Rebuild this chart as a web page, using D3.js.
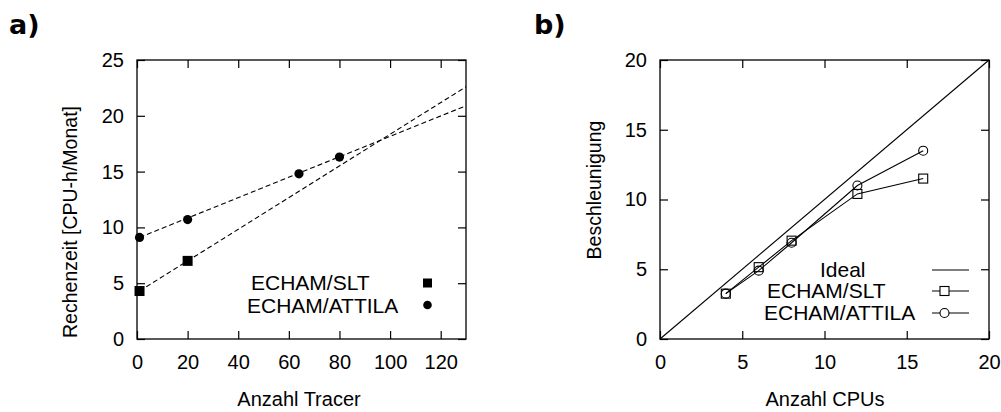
<!DOCTYPE html>
<html>
<head>
<meta charset="utf-8">
<script src="https://cdn.jsdelivr.net/npm/d3@7"></script>
<style>
  body { margin: 0; background: #fff; }
  svg text { font-family: "Liberation Sans", Arial, Helvetica, sans-serif; fill: #000; }
  .axis path { display: none; }
  .axis line { stroke: #000; stroke-width: 1.2; }
  .axis text { font-size: 20px; }
</style>
</head>
<body>
<div id="graph"></div>
<script>
// panel a) data: run time vs number of tracers
const tracerSLT = [1, 20];
const timeSLT = [4.3, 7.0];
const tracerATTILA = [1, 20, 64, 80];
const timeATTILA = [9.1, 10.7, 14.8, 16.3];
const fitTracer = [1, 130];
const fitSLT = [4.3, 22.6];
const fitATTILA = [9.1, 20.9];
const tracerTicks = [0, 20, 40, 60, 80, 100, 120];
const timeTicks = [0, 5, 10, 15, 20, 25];

// panel b) data: speedup vs number of CPUs
const cpus = [4, 6, 8, 12, 16];
const speedupSLT = [3.25, 5.15, 7.05, 10.4, 11.5];
const speedupATTILA = [3.25, 4.9, 6.9, 11.0, 13.5];
const idealCPUs = [0, 20];
const idealSpeedup = [0, 20];
const cpuTicks = [0, 5, 10, 15, 20];
const speedupTicks = [0, 5, 10, 15, 20];

const seriesNames = ["ECHAM/SLT", "ECHAM/ATTILA"];

(function() {
    const width = 1001, height = 412,
        top = 60, bottom = 339,
        tick = 8;

    const svg = d3.select("#graph")
        .append("svg")
        .attr("width", width)
        .attr("height", height);

    // scales
    const xA = d3.scaleLinear().domain([0, 130]).range([137, 466]);
    const yA = d3.scaleLinear().domain([0, 25]).range([bottom, top]);
    const xB = d3.scaleLinear().domain([0, 20]).range([660, 989]);
    const yB = d3.scaleLinear().domain([0, 20]).range([bottom, top]);

    // draws a framed box with inward ticks on all four sides
    function frame(x, y, xTicks, yTicks) {
        svg.append("g")
            .attr("class", "axis")
            .attr("transform", "translate(0," + bottom + ")")
            .call(d3.axisBottom(x).tickValues(xTicks).tickSizeInner(-tick).tickSizeOuter(0).tickPadding(16));
        svg.append("g")
            .attr("class", "axis")
            .attr("transform", "translate(0," + top + ")")
            .call(d3.axisTop(x).tickValues(xTicks).tickSizeInner(-tick).tickSizeOuter(0).tickFormat(""));
        svg.append("g")
            .attr("class", "axis")
            .attr("transform", "translate(" + x.range()[0] + ",0)")
            .call(d3.axisLeft(y).tickValues(yTicks).tickSizeInner(-tick).tickSizeOuter(0).tickPadding(13));
        svg.append("g")
            .attr("class", "axis")
            .attr("transform", "translate(" + x.range()[1] + ",0)")
            .call(d3.axisRight(y).tickValues(yTicks).tickSizeInner(-tick).tickSizeOuter(0).tickFormat(""));
        svg.append("rect")
            .attr("x", x.range()[0])
            .attr("y", top)
            .attr("width", x.range()[1] - x.range()[0])
            .attr("height", bottom - top)
            .attr("fill", "none")
            .attr("stroke", "#000")
            .attr("stroke-width", 1.3);
    }

    frame(xA, yA, tracerTicks, timeTicks);
    frame(xB, yB, cpuTicks, speedupTicks);

    // ---- panel a ----
    const lineA = d3.line().x(d => xA(d[0])).y(d => yA(d[1]));
    [fitSLT, fitATTILA].forEach(function(fit) {
        svg.append("path")
            .datum(d3.zip(fitTracer, fit))
            .attr("d", lineA)
            .attr("fill", "none")
            .attr("stroke", "#000")
            .attr("stroke-width", 1.1)
            .attr("stroke-dasharray", "5,3");
    });

    svg.selectAll(".sqA")
        .data(d3.zip(tracerSLT, timeSLT))
        .enter()
        .append("rect")
        .attr("class", "sqA")
        .attr("x", d => xA(d[0]) - 5)
        .attr("y", d => yA(d[1]) - 5)
        .attr("width", 10)
        .attr("height", 10)
        .attr("fill", "#000");

    svg.selectAll(".ciA")
        .data(d3.zip(tracerATTILA, timeATTILA))
        .enter()
        .append("circle")
        .attr("class", "ciA")
        .attr("cx", d => xA(d[0]))
        .attr("cy", d => yA(d[1]))
        .attr("r", 4.6)
        .attr("fill", "#000");

    // legend a
    svg.append("text").attr("x", 251).attr("y", 290).style("font-size", "21px").text(seriesNames[0]);
    svg.append("text").attr("x", 247).attr("y", 313).style("font-size", "21px").text(seriesNames[1]);
    svg.append("rect").attr("x", 423).attr("y", 278.5).attr("width", 9).attr("height", 9).attr("fill", "#000");
    svg.append("circle").attr("cx", 427.5).attr("cy", 305).attr("r", 4.3).attr("fill", "#000");

    // ---- panel b ----
    const lineB = d3.line().x(d => xB(d[0])).y(d => yB(d[1]));
    svg.append("path")
        .datum(d3.zip(idealCPUs, idealSpeedup))
        .attr("d", lineB)
        .attr("fill", "none")
        .attr("stroke", "#000")
        .attr("stroke-width", 1.1);

    [speedupSLT, speedupATTILA].forEach(function(s) {
        svg.append("path")
            .datum(d3.zip(cpus, s))
            .attr("d", lineB)
            .attr("fill", "none")
            .attr("stroke", "#000")
            .attr("stroke-width", 1.1);
    });

    svg.selectAll(".sqB")
        .data(d3.zip(cpus, speedupSLT))
        .enter()
        .append("rect")
        .attr("class", "sqB")
        .attr("x", d => xB(d[0]) - 4.5)
        .attr("y", d => yB(d[1]) - 4.5)
        .attr("width", 9)
        .attr("height", 9)
        .attr("fill", "none")
        .attr("stroke", "#000")
        .attr("stroke-width", 1.1);

    svg.selectAll(".ciB")
        .data(d3.zip(cpus, speedupATTILA))
        .enter()
        .append("circle")
        .attr("class", "ciB")
        .attr("cx", d => xB(d[0]))
        .attr("cy", d => yB(d[1]))
        .attr("r", 4.5)
        .attr("fill", "none")
        .attr("stroke", "#000")
        .attr("stroke-width", 1.1);

    // legend b
    const legB = [["Ideal", 820, 277, 270], [seriesNames[0], 767, 298, 291], [seriesNames[1], 764, 320, 313]];
    legB.forEach(function(l, i) {
        svg.append("text").attr("x", l[1]).attr("y", l[2]).style("font-size", "21px").text(l[0]);
        svg.append("line")
            .attr("x1", 932).attr("x2", 969).attr("y1", l[3]).attr("y2", l[3])
            .attr("stroke", "#000").attr("stroke-width", 1.1);
    });
    svg.append("rect").attr("x", 940).attr("y", 286.5).attr("width", 9).attr("height", 9)
        .attr("fill", "#fff").attr("stroke", "#000").attr("stroke-width", 1.1);
    svg.append("circle").attr("cx", 944.5).attr("cy", 313).attr("r", 4.5)
        .attr("fill", "#fff").attr("stroke", "#000").attr("stroke-width", 1.1);

    // axis titles
    svg.append("text").attr("x", 299).attr("y", 406).attr("text-anchor", "middle")
        .style("font-size", "20px").text("Anzahl Tracer");
    svg.append("text").attr("x", 825).attr("y", 406).attr("text-anchor", "middle")
        .style("font-size", "20px").text("Anzahl CPUs");
    svg.append("text").attr("transform", "translate(77,222) rotate(-90)").attr("text-anchor", "middle")
        .style("font-size", "19.5px").text("Rechenzeit [CPU-h/Monat]");
    svg.append("text").attr("transform", "translate(601,190) rotate(-90)").attr("text-anchor", "middle")
        .style("font-size", "19.5px").text("Beschleunigung");

    // panel letters
    svg.append("text").attr("x", 9).attr("y", 34)
        .style("font-family", "'DejaVu Sans', sans-serif").style("font-weight", "bold").style("font-size", "27px").text("a)");
    svg.append("text").attr("x", 534).attr("y", 34)
        .style("font-family", "'DejaVu Sans', sans-serif").style("font-weight", "bold").style("font-size", "27px").text("b)");
})();
</script>
</body>
</html>
